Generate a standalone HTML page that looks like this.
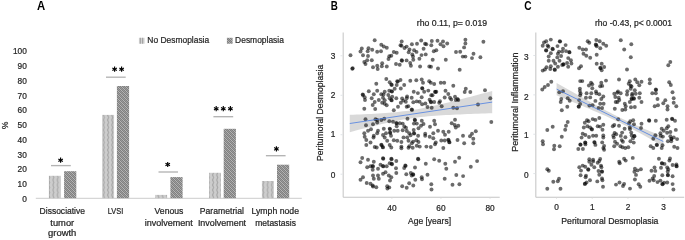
<!DOCTYPE html>
<html><head><meta charset="utf-8"><style>
html,body{margin:0;padding:0;background:#fff;width:685px;height:240px;overflow:hidden}
svg{display:block;font-family:"Liberation Sans", sans-serif;will-change:transform}
</style></head><body>
<svg width="685" height="240" viewBox="0 0 685 240">
<defs>
<pattern id="pl" width="4.2" height="5" patternUnits="userSpaceOnUse" x="0.4">
<rect width="4.2" height="5" fill="#cdcdcd"/><path d="M1.6,0 L2.5,2.5 L1.6,5 L2.8,5 L3.7,2.5 L2.8,0Z" fill="#a8a8a8"/>
</pattern>
<pattern id="pd" width="4" height="4" patternUnits="userSpaceOnUse">
<rect width="4" height="4" fill="#b6b6b6"/><path d="M0,0h1v1h-1zM2,0h1v1h-1zM1,1h1v1h-1zM3,1h1v1h-1zM0,2h1v1h-1zM2,2h1v1h-1zM1,3h1v1h-1zM3,3h1v1h-1z" fill="#808080"/><path d="M1,0h1v1h-1zM2,1h1v1h-1zM3,2h1v1h-1zM0,3h1v1h-1z" fill="#9c9c9c"/>
</pattern>
</defs>
<rect width="685" height="240" fill="#fff"/>
<text x="37" y="9.8" font-size="12.6" text-anchor="start" font-weight="bold" fill="#000" textLength="8.2" lengthAdjust="spacingAndGlyphs" >A</text><rect x="138.9" y="37.8" width="5.7" height="5.9" fill="#d2d2d2"/><rect x="139.8" y="37.8" width="1.1" height="5.9" fill="#a4a4a4"/><rect x="142.0" y="37.8" width="1.1" height="5.9" fill="#a4a4a4"/><rect x="226.9" y="37.8" width="5.7" height="5.9" fill="url(#pd)"/><text x="147.3" y="43.3" font-size="8.7" text-anchor="start" font-weight="normal" fill="#262626" stroke="#262626" stroke-width="0.22" textLength="61.9" lengthAdjust="spacingAndGlyphs" >No Desmoplasia</text><text x="235.1" y="43.3" font-size="8.7" text-anchor="start" font-weight="normal" fill="#262626" stroke="#262626" stroke-width="0.22" textLength="48.8" lengthAdjust="spacingAndGlyphs" >Desmoplasia</text><text x="26.8" y="201.79999999999998" font-size="8.3" text-anchor="end" font-weight="normal" fill="#262626" stroke="#262626" stroke-width="0.22" >0</text><text x="26.8" y="187.04999999999998" font-size="8.3" text-anchor="end" font-weight="normal" fill="#262626" stroke="#262626" stroke-width="0.22" >10</text><text x="26.8" y="172.29999999999998" font-size="8.3" text-anchor="end" font-weight="normal" fill="#262626" stroke="#262626" stroke-width="0.22" >20</text><text x="26.8" y="157.54999999999998" font-size="8.3" text-anchor="end" font-weight="normal" fill="#262626" stroke="#262626" stroke-width="0.22" >30</text><text x="26.8" y="142.79999999999998" font-size="8.3" text-anchor="end" font-weight="normal" fill="#262626" stroke="#262626" stroke-width="0.22" >40</text><text x="26.8" y="128.04999999999998" font-size="8.3" text-anchor="end" font-weight="normal" fill="#262626" stroke="#262626" stroke-width="0.22" >50</text><text x="26.8" y="113.29999999999998" font-size="8.3" text-anchor="end" font-weight="normal" fill="#262626" stroke="#262626" stroke-width="0.22" >60</text><text x="26.8" y="98.54999999999998" font-size="8.3" text-anchor="end" font-weight="normal" fill="#262626" stroke="#262626" stroke-width="0.22" >70</text><text x="26.8" y="83.79999999999998" font-size="8.3" text-anchor="end" font-weight="normal" fill="#262626" stroke="#262626" stroke-width="0.22" >80</text><text x="26.8" y="69.04999999999998" font-size="8.3" text-anchor="end" font-weight="normal" fill="#262626" stroke="#262626" stroke-width="0.22" >90</text><text x="26.8" y="54.29999999999999" font-size="8.3" text-anchor="end" font-weight="normal" fill="#262626" stroke="#262626" stroke-width="0.22" >100</text><text x="0" y="0" font-size="8.3" fill="#262626" stroke="#262626" stroke-width="0.22" text-anchor="middle" transform="translate(7.6,125.4) rotate(-90)">%</text><line x1="35.8" y1="198.35" x2="301.8" y2="198.35" stroke="#d6d6d6" stroke-width="1.1"/><rect x="48.9" y="175.8" width="12" height="22.40" fill="url(#pl)"/><rect x="64.1" y="171.2" width="12.2" height="27.00" fill="url(#pd)"/><rect x="102.1" y="114.9" width="12" height="83.30" fill="url(#pl)"/><rect x="116.9" y="86.0" width="12.2" height="112.20" fill="url(#pd)"/><rect x="155.1" y="194.9" width="12" height="3.30" fill="url(#pl)"/><rect x="170.4" y="177.1" width="12.2" height="21.10" fill="url(#pd)"/><rect x="209.0" y="172.8" width="12" height="25.40" fill="url(#pl)"/><rect x="223.7" y="128.8" width="12.2" height="69.40" fill="url(#pd)"/><rect x="261.9" y="181.0" width="12" height="17.20" fill="url(#pl)"/><rect x="277.0" y="164.7" width="12.2" height="33.50" fill="url(#pd)"/><line x1="51.0" y1="165.6" x2="70.8" y2="165.6" stroke="#b4b4b4" stroke-width="1.35"/><line x1="60.60" y1="157.60" x2="60.60" y2="162.80" stroke="#000" stroke-width="1.15"/><line x1="58.35" y1="158.90" x2="62.85" y2="161.50" stroke="#000" stroke-width="1.15"/><line x1="62.85" y1="158.90" x2="58.35" y2="161.50" stroke="#000" stroke-width="1.15"/><line x1="106" y1="77.2" x2="125.7" y2="77.2" stroke="#b4b4b4" stroke-width="1.35"/><line x1="114.60" y1="66.60" x2="114.60" y2="71.80" stroke="#000" stroke-width="1.15"/><line x1="112.35" y1="67.90" x2="116.85" y2="70.50" stroke="#000" stroke-width="1.15"/><line x1="116.85" y1="67.90" x2="112.35" y2="70.50" stroke="#000" stroke-width="1.15"/><line x1="121.60" y1="66.60" x2="121.60" y2="71.80" stroke="#000" stroke-width="1.15"/><line x1="119.35" y1="67.90" x2="123.85" y2="70.50" stroke="#000" stroke-width="1.15"/><line x1="123.85" y1="67.90" x2="119.35" y2="70.50" stroke="#000" stroke-width="1.15"/><line x1="158.5" y1="172" x2="178" y2="172" stroke="#b4b4b4" stroke-width="1.35"/><line x1="167.70" y1="161.90" x2="167.70" y2="167.10" stroke="#000" stroke-width="1.15"/><line x1="165.45" y1="163.20" x2="169.95" y2="165.80" stroke="#000" stroke-width="1.15"/><line x1="169.95" y1="163.20" x2="165.45" y2="165.80" stroke="#000" stroke-width="1.15"/><line x1="213.4" y1="116.7" x2="233.2" y2="116.7" stroke="#b4b4b4" stroke-width="1.35"/><line x1="216.20" y1="106.10" x2="216.20" y2="111.30" stroke="#000" stroke-width="1.15"/><line x1="213.95" y1="107.40" x2="218.45" y2="110.00" stroke="#000" stroke-width="1.15"/><line x1="218.45" y1="107.40" x2="213.95" y2="110.00" stroke="#000" stroke-width="1.15"/><line x1="223.30" y1="106.10" x2="223.30" y2="111.30" stroke="#000" stroke-width="1.15"/><line x1="221.05" y1="107.40" x2="225.55" y2="110.00" stroke="#000" stroke-width="1.15"/><line x1="225.55" y1="107.40" x2="221.05" y2="110.00" stroke="#000" stroke-width="1.15"/><line x1="230.40" y1="106.10" x2="230.40" y2="111.30" stroke="#000" stroke-width="1.15"/><line x1="228.15" y1="107.40" x2="232.65" y2="110.00" stroke="#000" stroke-width="1.15"/><line x1="232.65" y1="107.40" x2="228.15" y2="110.00" stroke="#000" stroke-width="1.15"/><line x1="265.9" y1="155.7" x2="285.6" y2="155.7" stroke="#b4b4b4" stroke-width="1.35"/><line x1="276.40" y1="146.30" x2="276.40" y2="151.50" stroke="#000" stroke-width="1.15"/><line x1="274.15" y1="147.60" x2="278.65" y2="150.20" stroke="#000" stroke-width="1.15"/><line x1="278.65" y1="147.60" x2="274.15" y2="150.20" stroke="#000" stroke-width="1.15"/><text x="39.6" y="214.0" font-size="8.3" text-anchor="start" font-weight="normal" fill="#262626" stroke="#262626" stroke-width="0.22" textLength="45.4" lengthAdjust="spacingAndGlyphs" >Dissociative</text><text x="50.3" y="225.5" font-size="8.3" text-anchor="start" font-weight="normal" fill="#262626" stroke="#262626" stroke-width="0.22" textLength="23.9" lengthAdjust="spacingAndGlyphs" >tumor</text><text x="48.0" y="236.3" font-size="8.3" text-anchor="start" font-weight="normal" fill="#262626" stroke="#262626" stroke-width="0.22" textLength="28.3" lengthAdjust="spacingAndGlyphs" >growth</text><text x="107.8" y="214.0" font-size="8.3" text-anchor="start" font-weight="normal" fill="#262626" stroke="#262626" stroke-width="0.22" textLength="15.5" lengthAdjust="spacingAndGlyphs" >LVSI</text><text x="154.6" y="214.0" font-size="8.3" text-anchor="start" font-weight="normal" fill="#262626" stroke="#262626" stroke-width="0.22" textLength="28.8" lengthAdjust="spacingAndGlyphs" >Venous</text><text x="144.8" y="225.5" font-size="8.3" text-anchor="start" font-weight="normal" fill="#262626" stroke="#262626" stroke-width="0.22" textLength="48.0" lengthAdjust="spacingAndGlyphs" >involvement</text><text x="199.8" y="214.0" font-size="8.3" text-anchor="start" font-weight="normal" fill="#262626" stroke="#262626" stroke-width="0.22" textLength="44.2" lengthAdjust="spacingAndGlyphs" >Parametrial</text><text x="197.9" y="225.5" font-size="8.3" text-anchor="start" font-weight="normal" fill="#262626" stroke="#262626" stroke-width="0.22" textLength="48.2" lengthAdjust="spacingAndGlyphs" >Involvement</text><text x="251.5" y="214.0" font-size="8.3" text-anchor="start" font-weight="normal" fill="#262626" stroke="#262626" stroke-width="0.22" textLength="47.5" lengthAdjust="spacingAndGlyphs" >Lymph node</text><text x="255.2" y="225.5" font-size="8.3" text-anchor="start" font-weight="normal" fill="#262626" stroke="#262626" stroke-width="0.22" textLength="40.7" lengthAdjust="spacingAndGlyphs" >metastasis</text><text x="330.8" y="9.8" font-size="12.6" text-anchor="start" font-weight="bold" fill="#000" textLength="7.1" lengthAdjust="spacingAndGlyphs" >B</text><text x="416.8" y="25.8" font-size="8.3" text-anchor="start" font-weight="normal" fill="#262626" stroke="#262626" stroke-width="0.22" textLength="70.3" lengthAdjust="spacingAndGlyphs" >rho 0.11, p= 0.019</text><line x1="343.2" y1="32.5" x2="343.2" y2="197.3" stroke="#cbcbcb" stroke-width="1.15"/><line x1="343.2" y1="197.25" x2="499.7" y2="197.25" stroke="#c4c4c4" stroke-width="1.15"/><line x1="340.5" y1="174.20" x2="342.6" y2="174.20" stroke="#e0e4e8" stroke-width="1"/><text x="335.3" y="178.2" font-size="8.3" text-anchor="end" font-weight="normal" fill="#262626" stroke="#262626" stroke-width="0.22" >0</text><line x1="340.5" y1="134.73" x2="342.6" y2="134.73" stroke="#e0e4e8" stroke-width="1"/><text x="335.3" y="136.9" font-size="8.3" text-anchor="end" font-weight="normal" fill="#262626" stroke="#262626" stroke-width="0.22" >1</text><line x1="340.5" y1="95.26" x2="342.6" y2="95.26" stroke="#e0e4e8" stroke-width="1"/><text x="335.3" y="98.3" font-size="8.3" text-anchor="end" font-weight="normal" fill="#262626" stroke="#262626" stroke-width="0.22" >2</text><line x1="340.5" y1="55.79" x2="342.6" y2="55.79" stroke="#e0e4e8" stroke-width="1"/><text x="335.3" y="58.8" font-size="8.3" text-anchor="end" font-weight="normal" fill="#262626" stroke="#262626" stroke-width="0.22" >3</text><line x1="391.90" y1="197.6" x2="391.90" y2="198.6" stroke="#d8d8d8" stroke-width="1"/><text x="391.9" y="211.0" font-size="8.3" text-anchor="middle" font-weight="normal" fill="#262626" stroke="#262626" stroke-width="0.22" >40</text><line x1="440.95" y1="197.6" x2="440.95" y2="198.6" stroke="#d8d8d8" stroke-width="1"/><text x="440.95" y="211.0" font-size="8.3" text-anchor="middle" font-weight="normal" fill="#262626" stroke="#262626" stroke-width="0.22" >60</text><line x1="490.00" y1="197.6" x2="490.00" y2="198.6" stroke="#d8d8d8" stroke-width="1"/><text x="490.0" y="211.0" font-size="8.3" text-anchor="middle" font-weight="normal" fill="#262626" stroke="#262626" stroke-width="0.22" >80</text><text x="408.0" y="224.3" font-size="8.3" text-anchor="start" font-weight="normal" fill="#262626" stroke="#262626" stroke-width="0.22" textLength="43" lengthAdjust="spacingAndGlyphs" >Age [years]</text><text x="0" y="0" font-size="8.3" fill="#262626" stroke="#262626" stroke-width="0.22" textLength="96.1" lengthAdjust="spacingAndGlyphs" transform="translate(323.0,160.9) rotate(-90)">Peritumoral Desmoplasia</text><path d="M349.75,114.86 L353.31,114.72 L356.87,114.58 L360.43,114.42 L364.00,114.26 L367.56,114.10 L371.12,113.92 L374.68,113.72 L378.24,113.52 L381.80,113.29 L385.36,113.05 L388.92,112.78 L392.49,112.48 L396.05,112.15 L399.61,111.78 L403.17,111.36 L406.73,110.90 L410.29,110.39 L413.85,109.83 L417.41,109.22 L420.98,108.57 L424.54,107.87 L428.10,107.13 L431.66,106.36 L435.22,105.56 L438.78,104.73 L442.34,103.89 L445.90,103.03 L449.46,102.15 L453.03,101.26 L456.59,100.36 L460.15,99.45 L463.71,98.53 L467.27,97.60 L470.83,96.67 L474.39,95.74 L477.95,94.80 L481.52,93.85 L485.08,92.90 L488.64,91.95 L492.20,91.00 L492.20,113.20 L488.64,113.32 L485.08,113.44 L481.52,113.56 L477.95,113.68 L474.39,113.81 L470.83,113.95 L467.27,114.09 L463.71,114.23 L460.15,114.38 L456.59,114.54 L453.03,114.71 L449.46,114.89 L445.90,115.08 L442.34,115.29 L438.78,115.52 L435.22,115.76 L431.66,116.03 L428.10,116.33 L424.54,116.66 L420.98,117.03 L417.41,117.45 L413.85,117.91 L410.29,118.42 L406.73,118.98 L403.17,119.59 L399.61,120.24 L396.05,120.94 L392.49,121.68 L388.92,122.45 L385.36,123.25 L381.80,124.08 L378.24,124.92 L374.68,125.79 L371.12,126.66 L367.56,127.55 L364.00,128.46 L360.43,129.37 L356.87,130.28 L353.31,131.21 L349.75,132.14Z" fill="#d0d0d0" fill-opacity="0.8"/><circle fill="#000" fill-opacity="0.58" cx="350.5" cy="55.2" r="1.95"/><circle fill="#000" fill-opacity="0.58" cx="352.7" cy="68.2" r="1.95"/><circle fill="#000" fill-opacity="0.58" cx="352.3" cy="68.8" r="1.95"/><circle fill="#000" fill-opacity="0.58" cx="374.7" cy="40.2" r="1.95"/><circle fill="#000" fill-opacity="0.58" cx="361.8" cy="48.5" r="1.95"/><circle fill="#000" fill-opacity="0.58" cx="360.5" cy="51.5" r="1.95"/><circle fill="#000" fill-opacity="0.58" cx="368.5" cy="48.2" r="1.95"/><circle fill="#000" fill-opacity="0.58" cx="367.7" cy="51.2" r="1.95"/><circle fill="#000" fill-opacity="0.58" cx="372.2" cy="49.8" r="1.95"/><circle fill="#000" fill-opacity="0.58" cx="363.0" cy="55.3" r="1.95"/><circle fill="#000" fill-opacity="0.58" cx="368.0" cy="56.0" r="1.95"/><circle fill="#000" fill-opacity="0.58" cx="377.2" cy="51.8" r="1.95"/><circle fill="#000" fill-opacity="0.58" cx="381.0" cy="51.2" r="1.95"/><circle fill="#000" fill-opacity="0.58" cx="381.3" cy="44.8" r="1.95"/><circle fill="#000" fill-opacity="0.58" cx="383.8" cy="46.5" r="1.95"/><circle fill="#000" fill-opacity="0.58" cx="386.8" cy="47.7" r="1.95"/><circle fill="#000" fill-opacity="0.58" cx="367.2" cy="60.3" r="1.95"/><circle fill="#000" fill-opacity="0.58" cx="364.3" cy="62.0" r="1.95"/><circle fill="#000" fill-opacity="0.58" cx="365.5" cy="64.0" r="1.95"/><circle fill="#000" fill-opacity="0.58" cx="371.8" cy="60.3" r="1.95"/><circle fill="#000" fill-opacity="0.58" cx="373.0" cy="67.3" r="1.95"/><circle fill="#000" fill-opacity="0.58" cx="377.2" cy="65.7" r="1.95"/><circle fill="#000" fill-opacity="0.58" cx="377.7" cy="69.0" r="1.95"/><circle fill="#000" fill-opacity="0.58" cx="382.2" cy="63.2" r="1.95"/><circle fill="#000" fill-opacity="0.58" cx="381.8" cy="66.2" r="1.95"/><circle fill="#000" fill-opacity="0.58" cx="386.8" cy="66.5" r="1.95"/><circle fill="#000" fill-opacity="0.58" cx="389.3" cy="56.2" r="1.95"/><circle fill="#000" fill-opacity="0.58" cx="391.3" cy="55.7" r="1.95"/><circle fill="#000" fill-opacity="0.58" cx="388.5" cy="59.0" r="1.95"/><circle fill="#000" fill-opacity="0.58" cx="393.8" cy="52.0" r="1.95"/><circle fill="#000" fill-opacity="0.58" cx="396.7" cy="52.8" r="1.95"/><circle fill="#000" fill-opacity="0.58" cx="396.0" cy="64.0" r="1.95"/><circle fill="#000" fill-opacity="0.58" cx="399.7" cy="64.8" r="1.95"/><circle fill="#000" fill-opacity="0.58" cx="400.5" cy="45.3" r="1.95"/><circle fill="#000" fill-opacity="0.58" cx="401.5" cy="45.8" r="1.95"/><circle fill="#000" fill-opacity="0.58" cx="401.7" cy="41.5" r="1.95"/><circle fill="#000" fill-opacity="0.58" cx="401.7" cy="60.3" r="1.95"/><circle fill="#000" fill-opacity="0.58" cx="402.0" cy="60.8" r="1.95"/><circle fill="#000" fill-opacity="0.58" cx="404.5" cy="48.0" r="1.95"/><circle fill="#000" fill-opacity="0.58" cx="406.6" cy="46.6" r="1.95"/><circle fill="#000" fill-opacity="0.58" cx="409.5" cy="49.5" r="1.95"/><circle fill="#000" fill-opacity="0.58" cx="408.7" cy="52.3" r="1.95"/><circle fill="#000" fill-opacity="0.58" cx="411.9" cy="44.2" r="1.95"/><circle fill="#000" fill-opacity="0.58" cx="417.0" cy="43.8" r="1.95"/><circle fill="#000" fill-opacity="0.58" cx="414.1" cy="50.2" r="1.95"/><circle fill="#000" fill-opacity="0.58" cx="416.5" cy="51.9" r="1.95"/><circle fill="#000" fill-opacity="0.58" cx="412.3" cy="54.4" r="1.95"/><circle fill="#000" fill-opacity="0.58" cx="413.0" cy="56.5" r="1.95"/><circle fill="#000" fill-opacity="0.58" cx="421.2" cy="40.5" r="1.95"/><circle fill="#000" fill-opacity="0.58" cx="425.0" cy="43.8" r="1.95"/><circle fill="#000" fill-opacity="0.58" cx="423.6" cy="48.7" r="1.95"/><circle fill="#000" fill-opacity="0.58" cx="421.5" cy="55.1" r="1.95"/><circle fill="#000" fill-opacity="0.58" cx="425.7" cy="54.4" r="1.95"/><circle fill="#000" fill-opacity="0.58" cx="419.4" cy="58.7" r="1.95"/><circle fill="#000" fill-opacity="0.58" cx="406.6" cy="60.4" r="1.95"/><circle fill="#000" fill-opacity="0.58" cx="410.2" cy="62.9" r="1.95"/><circle fill="#000" fill-opacity="0.58" cx="413.3" cy="59.8" r="1.95"/><circle fill="#000" fill-opacity="0.58" cx="410.9" cy="65.7" r="1.95"/><circle fill="#000" fill-opacity="0.58" cx="420.1" cy="66.5" r="1.95"/><circle fill="#000" fill-opacity="0.58" cx="429.3" cy="66.5" r="1.95"/><circle fill="#000" fill-opacity="0.58" cx="431.0" cy="66.8" r="1.95"/><circle fill="#000" fill-opacity="0.58" cx="426.3" cy="44.3" r="1.95"/><circle fill="#000" fill-opacity="0.58" cx="431.8" cy="41.0" r="1.95"/><circle fill="#000" fill-opacity="0.58" cx="431.3" cy="45.3" r="1.95"/><circle fill="#000" fill-opacity="0.58" cx="437.5" cy="40.7" r="1.95"/><circle fill="#000" fill-opacity="0.58" cx="443.0" cy="41.5" r="1.95"/><circle fill="#000" fill-opacity="0.58" cx="440.5" cy="44.3" r="1.95"/><circle fill="#000" fill-opacity="0.58" cx="443.5" cy="46.2" r="1.95"/><circle fill="#000" fill-opacity="0.58" cx="447.2" cy="43.5" r="1.95"/><circle fill="#000" fill-opacity="0.58" cx="433.8" cy="51.2" r="1.95"/><circle fill="#000" fill-opacity="0.58" cx="436.3" cy="50.2" r="1.95"/><circle fill="#000" fill-opacity="0.58" cx="432.7" cy="59.8" r="1.95"/><circle fill="#000" fill-opacity="0.58" cx="445.8" cy="59.8" r="1.95"/><circle fill="#000" fill-opacity="0.58" cx="438.0" cy="68.5" r="1.95"/><circle fill="#000" fill-opacity="0.58" cx="456.0" cy="52.0" r="1.95"/><circle fill="#000" fill-opacity="0.58" cx="460.2" cy="51.8" r="1.95"/><circle fill="#000" fill-opacity="0.58" cx="459.7" cy="69.8" r="1.95"/><circle fill="#000" fill-opacity="0.58" cx="465.4" cy="39.8" r="1.95"/><circle fill="#000" fill-opacity="0.58" cx="465.4" cy="43.5" r="1.95"/><circle fill="#000" fill-opacity="0.58" cx="464.1" cy="47.4" r="1.95"/><circle fill="#000" fill-opacity="0.58" cx="462.8" cy="56.6" r="1.95"/><circle fill="#000" fill-opacity="0.58" cx="465.4" cy="56.6" r="1.95"/><circle fill="#000" fill-opacity="0.58" cx="473.5" cy="53.8" r="1.95"/><circle fill="#000" fill-opacity="0.58" cx="472.0" cy="58.1" r="1.95"/><circle fill="#000" fill-opacity="0.58" cx="480.4" cy="57.2" r="1.95"/><circle fill="#000" fill-opacity="0.58" cx="483.4" cy="41.8" r="1.95"/><circle fill="#000" fill-opacity="0.58" cx="386.3" cy="79.0" r="1.95"/><circle fill="#000" fill-opacity="0.58" cx="376.3" cy="83.7" r="1.95"/><circle fill="#000" fill-opacity="0.58" cx="389.7" cy="82.3" r="1.95"/><circle fill="#000" fill-opacity="0.58" cx="391.3" cy="84.5" r="1.95"/><circle fill="#000" fill-opacity="0.58" cx="391.8" cy="85.0" r="1.95"/><circle fill="#000" fill-opacity="0.58" cx="397.2" cy="81.2" r="1.95"/><circle fill="#000" fill-opacity="0.58" cx="397.8" cy="81.6" r="1.95"/><circle fill="#000" fill-opacity="0.58" cx="400.5" cy="80.0" r="1.95"/><circle fill="#000" fill-opacity="0.58" cx="396.7" cy="85.0" r="1.95"/><circle fill="#000" fill-opacity="0.58" cx="394.7" cy="88.7" r="1.95"/><circle fill="#000" fill-opacity="0.58" cx="368.8" cy="91.2" r="1.95"/><circle fill="#000" fill-opacity="0.58" cx="377.2" cy="90.7" r="1.95"/><circle fill="#000" fill-opacity="0.58" cx="384.7" cy="91.7" r="1.95"/><circle fill="#000" fill-opacity="0.58" cx="389.3" cy="90.7" r="1.95"/><circle fill="#000" fill-opacity="0.58" cx="391.7" cy="91.2" r="1.95"/><circle fill="#000" fill-opacity="0.58" cx="392.0" cy="91.6" r="1.95"/><circle fill="#000" fill-opacity="0.58" cx="362.7" cy="94.5" r="1.95"/><circle fill="#000" fill-opacity="0.58" cx="363.0" cy="95.0" r="1.95"/><circle fill="#000" fill-opacity="0.58" cx="364.7" cy="97.3" r="1.95"/><circle fill="#000" fill-opacity="0.58" cx="365.0" cy="100.0" r="1.95"/><circle fill="#000" fill-opacity="0.58" cx="373.8" cy="94.2" r="1.95"/><circle fill="#000" fill-opacity="0.58" cx="381.3" cy="94.2" r="1.95"/><circle fill="#000" fill-opacity="0.58" cx="383.5" cy="94.5" r="1.95"/><circle fill="#000" fill-opacity="0.58" cx="383.0" cy="97.8" r="1.95"/><circle fill="#000" fill-opacity="0.58" cx="388.3" cy="95.0" r="1.95"/><circle fill="#000" fill-opacity="0.58" cx="389.7" cy="98.3" r="1.95"/><circle fill="#000" fill-opacity="0.58" cx="392.2" cy="96.7" r="1.95"/><circle fill="#000" fill-opacity="0.58" cx="371.7" cy="98.3" r="1.95"/><circle fill="#000" fill-opacity="0.58" cx="378.8" cy="100.0" r="1.95"/><circle fill="#000" fill-opacity="0.58" cx="384.7" cy="100.3" r="1.95"/><circle fill="#000" fill-opacity="0.58" cx="391.3" cy="100.0" r="1.95"/><circle fill="#000" fill-opacity="0.58" cx="391.7" cy="100.4" r="1.95"/><circle fill="#000" fill-opacity="0.58" cx="396.3" cy="98.3" r="1.95"/><circle fill="#000" fill-opacity="0.58" cx="374.7" cy="102.0" r="1.95"/><circle fill="#000" fill-opacity="0.58" cx="372.7" cy="105.0" r="1.95"/><circle fill="#000" fill-opacity="0.58" cx="382.2" cy="102.8" r="1.95"/><circle fill="#000" fill-opacity="0.58" cx="384.7" cy="103.7" r="1.95"/><circle fill="#000" fill-opacity="0.58" cx="386.7" cy="105.3" r="1.95"/><circle fill="#000" fill-opacity="0.58" cx="364.3" cy="108.7" r="1.95"/><circle fill="#000" fill-opacity="0.58" cx="375.2" cy="109.0" r="1.95"/><circle fill="#000" fill-opacity="0.58" cx="393.8" cy="110.3" r="1.95"/><circle fill="#000" fill-opacity="0.58" cx="398.0" cy="106.7" r="1.95"/><circle fill="#000" fill-opacity="0.58" cx="404.2" cy="85.0" r="1.95"/><circle fill="#000" fill-opacity="0.58" cx="410.3" cy="80.7" r="1.95"/><circle fill="#000" fill-opacity="0.58" cx="416.3" cy="80.3" r="1.95"/><circle fill="#000" fill-opacity="0.58" cx="421.7" cy="79.5" r="1.95"/><circle fill="#000" fill-opacity="0.58" cx="423.0" cy="82.8" r="1.95"/><circle fill="#000" fill-opacity="0.58" cx="429.2" cy="81.2" r="1.95"/><circle fill="#000" fill-opacity="0.58" cx="430.8" cy="82.8" r="1.95"/><circle fill="#000" fill-opacity="0.58" cx="434.2" cy="84.0" r="1.95"/><circle fill="#000" fill-opacity="0.58" cx="440.8" cy="82.8" r="1.95"/><circle fill="#000" fill-opacity="0.58" cx="444.2" cy="82.8" r="1.95"/><circle fill="#000" fill-opacity="0.58" cx="453.3" cy="85.8" r="1.95"/><circle fill="#000" fill-opacity="0.58" cx="435.0" cy="91.7" r="1.95"/><circle fill="#000" fill-opacity="0.58" cx="435.5" cy="92.0" r="1.95"/><circle fill="#000" fill-opacity="0.58" cx="436.3" cy="91.7" r="1.95"/><circle fill="#000" fill-opacity="0.58" cx="445.5" cy="90.8" r="1.95"/><circle fill="#000" fill-opacity="0.58" cx="448.3" cy="94.0" r="1.95"/><circle fill="#000" fill-opacity="0.58" cx="432.5" cy="95.3" r="1.95"/><circle fill="#000" fill-opacity="0.58" cx="434.2" cy="102.0" r="1.95"/><circle fill="#000" fill-opacity="0.58" cx="440.0" cy="101.2" r="1.95"/><circle fill="#000" fill-opacity="0.58" cx="444.7" cy="97.5" r="1.95"/><circle fill="#000" fill-opacity="0.58" cx="450.0" cy="97.8" r="1.95"/><circle fill="#000" fill-opacity="0.58" cx="451.3" cy="99.5" r="1.95"/><circle fill="#000" fill-opacity="0.58" cx="455.0" cy="96.7" r="1.95"/><circle fill="#000" fill-opacity="0.58" cx="457.5" cy="99.0" r="1.95"/><circle fill="#000" fill-opacity="0.58" cx="427.5" cy="107.0" r="1.95"/><circle fill="#000" fill-opacity="0.58" cx="431.7" cy="107.8" r="1.95"/><circle fill="#000" fill-opacity="0.58" cx="439.2" cy="102.8" r="1.95"/><circle fill="#000" fill-opacity="0.58" cx="441.7" cy="106.2" r="1.95"/><circle fill="#000" fill-opacity="0.58" cx="406.7" cy="106.7" r="1.95"/><circle fill="#000" fill-opacity="0.58" cx="408.3" cy="106.2" r="1.95"/><circle fill="#000" fill-opacity="0.58" cx="411.7" cy="109.5" r="1.95"/><circle fill="#000" fill-opacity="0.58" cx="412.0" cy="109.9" r="1.95"/><circle fill="#000" fill-opacity="0.58" cx="453.3" cy="107.8" r="1.95"/><circle fill="#000" fill-opacity="0.58" cx="457.0" cy="108.3" r="1.95"/><circle fill="#000" fill-opacity="0.58" cx="465.8" cy="88.7" r="1.95"/><circle fill="#000" fill-opacity="0.58" cx="464.7" cy="92.0" r="1.95"/><circle fill="#000" fill-opacity="0.58" cx="470.3" cy="92.0" r="1.95"/><circle fill="#000" fill-opacity="0.58" cx="485.0" cy="90.3" r="1.95"/><circle fill="#000" fill-opacity="0.58" cx="490.3" cy="98.3" r="1.95"/><circle fill="#000" fill-opacity="0.58" cx="455.8" cy="100.0" r="1.95"/><circle fill="#000" fill-opacity="0.58" cx="458.3" cy="100.0" r="1.95"/><circle fill="#000" fill-opacity="0.58" cx="478.0" cy="104.5" r="1.95"/><circle fill="#000" fill-opacity="0.58" cx="365.5" cy="119.2" r="1.95"/><circle fill="#000" fill-opacity="0.58" cx="366.0" cy="125.3" r="1.95"/><circle fill="#000" fill-opacity="0.58" cx="373.0" cy="124.2" r="1.95"/><circle fill="#000" fill-opacity="0.58" cx="375.5" cy="119.2" r="1.95"/><circle fill="#000" fill-opacity="0.58" cx="377.2" cy="120.0" r="1.95"/><circle fill="#000" fill-opacity="0.58" cx="377.2" cy="122.5" r="1.95"/><circle fill="#000" fill-opacity="0.58" cx="381.3" cy="120.0" r="1.95"/><circle fill="#000" fill-opacity="0.58" cx="384.3" cy="118.7" r="1.95"/><circle fill="#000" fill-opacity="0.58" cx="389.3" cy="121.3" r="1.95"/><circle fill="#000" fill-opacity="0.58" cx="393.0" cy="121.7" r="1.95"/><circle fill="#000" fill-opacity="0.58" cx="396.3" cy="123.0" r="1.95"/><circle fill="#000" fill-opacity="0.58" cx="396.7" cy="123.4" r="1.95"/><circle fill="#000" fill-opacity="0.58" cx="399.75" cy="123.2" r="1.95"/><circle fill="#000" fill-opacity="0.58" cx="396.7" cy="126.3" r="1.95"/><circle fill="#000" fill-opacity="0.58" cx="364.3" cy="133.3" r="1.95"/><circle fill="#000" fill-opacity="0.58" cx="368.0" cy="130.8" r="1.95"/><circle fill="#000" fill-opacity="0.58" cx="371.0" cy="129.2" r="1.95"/><circle fill="#000" fill-opacity="0.58" cx="378.0" cy="130.8" r="1.95"/><circle fill="#000" fill-opacity="0.58" cx="377.2" cy="133.3" r="1.95"/><circle fill="#000" fill-opacity="0.58" cx="383.8" cy="128.8" r="1.95"/><circle fill="#000" fill-opacity="0.58" cx="389.7" cy="128.7" r="1.95"/><circle fill="#000" fill-opacity="0.58" cx="390.0" cy="129.1" r="1.95"/><circle fill="#000" fill-opacity="0.58" cx="390.0" cy="132.5" r="1.95"/><circle fill="#000" fill-opacity="0.58" cx="390.3" cy="132.9" r="1.95"/><circle fill="#000" fill-opacity="0.58" cx="394.3" cy="130.8" r="1.95"/><circle fill="#000" fill-opacity="0.58" cx="397.7" cy="130.8" r="1.95"/><circle fill="#000" fill-opacity="0.58" cx="402.7" cy="130.25" r="1.95"/><circle fill="#000" fill-opacity="0.58" cx="383.0" cy="135.0" r="1.95"/><circle fill="#000" fill-opacity="0.58" cx="386.0" cy="133.3" r="1.95"/><circle fill="#000" fill-opacity="0.58" cx="391.0" cy="135.8" r="1.95"/><circle fill="#000" fill-opacity="0.58" cx="364.7" cy="136.7" r="1.95"/><circle fill="#000" fill-opacity="0.58" cx="373.8" cy="135.8" r="1.95"/><circle fill="#000" fill-opacity="0.58" cx="373.5" cy="137.5" r="1.95"/><circle fill="#000" fill-opacity="0.58" cx="384.7" cy="137.5" r="1.95"/><circle fill="#000" fill-opacity="0.58" cx="366.3" cy="140.0" r="1.95"/><circle fill="#000" fill-opacity="0.58" cx="370.5" cy="142.5" r="1.95"/><circle fill="#000" fill-opacity="0.58" cx="387.2" cy="140.8" r="1.95"/><circle fill="#000" fill-opacity="0.58" cx="393.8" cy="140.3" r="1.95"/><circle fill="#000" fill-opacity="0.58" cx="366.3" cy="145.0" r="1.95"/><circle fill="#000" fill-opacity="0.58" cx="374.7" cy="147.0" r="1.95"/><circle fill="#000" fill-opacity="0.58" cx="376.7" cy="147.5" r="1.95"/><circle fill="#000" fill-opacity="0.58" cx="381.3" cy="144.7" r="1.95"/><circle fill="#000" fill-opacity="0.58" cx="381.6" cy="145.1" r="1.95"/><circle fill="#000" fill-opacity="0.58" cx="382.7" cy="147.0" r="1.95"/><circle fill="#000" fill-opacity="0.58" cx="383.0" cy="147.4" r="1.95"/><circle fill="#000" fill-opacity="0.58" cx="389.7" cy="145.0" r="1.95"/><circle fill="#000" fill-opacity="0.58" cx="391.3" cy="147.5" r="1.95"/><circle fill="#000" fill-opacity="0.58" cx="407.5" cy="118.7" r="1.95"/><circle fill="#000" fill-opacity="0.58" cx="414.75" cy="119.8" r="1.95"/><circle fill="#000" fill-opacity="0.58" cx="415.0" cy="120.2" r="1.95"/><circle fill="#000" fill-opacity="0.58" cx="413.9" cy="123.6" r="1.95"/><circle fill="#000" fill-opacity="0.58" cx="416.8" cy="123.6" r="1.95"/><circle fill="#000" fill-opacity="0.58" cx="421.8" cy="120.7" r="1.95"/><circle fill="#000" fill-opacity="0.58" cx="421.0" cy="125.7" r="1.95"/><circle fill="#000" fill-opacity="0.58" cx="423.5" cy="124.0" r="1.95"/><circle fill="#000" fill-opacity="0.58" cx="418.5" cy="128.2" r="1.95"/><circle fill="#000" fill-opacity="0.58" cx="434.2" cy="120.8" r="1.95"/><circle fill="#000" fill-opacity="0.58" cx="435.0" cy="124.2" r="1.95"/><circle fill="#000" fill-opacity="0.58" cx="430.0" cy="126.7" r="1.95"/><circle fill="#000" fill-opacity="0.58" cx="402.7" cy="123.6" r="1.95"/><circle fill="#000" fill-opacity="0.58" cx="404.3" cy="126.5" r="1.95"/><circle fill="#000" fill-opacity="0.58" cx="406.0" cy="127.75" r="1.95"/><circle fill="#000" fill-opacity="0.58" cx="406.8" cy="131.0" r="1.95"/><circle fill="#000" fill-opacity="0.58" cx="413.7" cy="130.0" r="1.95"/><circle fill="#000" fill-opacity="0.58" cx="429.7" cy="136.7" r="1.95"/><circle fill="#000" fill-opacity="0.58" cx="433.3" cy="133.3" r="1.95"/><circle fill="#000" fill-opacity="0.58" cx="438.0" cy="130.8" r="1.95"/><circle fill="#000" fill-opacity="0.58" cx="443.3" cy="131.7" r="1.95"/><circle fill="#000" fill-opacity="0.58" cx="445.0" cy="134.7" r="1.95"/><circle fill="#000" fill-opacity="0.58" cx="448.7" cy="131.7" r="1.95"/><circle fill="#000" fill-opacity="0.58" cx="433.3" cy="138.3" r="1.95"/><circle fill="#000" fill-opacity="0.58" cx="435.8" cy="142.5" r="1.95"/><circle fill="#000" fill-opacity="0.58" cx="435.0" cy="144.2" r="1.95"/><circle fill="#000" fill-opacity="0.58" cx="441.3" cy="140.5" r="1.95"/><circle fill="#000" fill-opacity="0.58" cx="444.7" cy="140.5" r="1.95"/><circle fill="#000" fill-opacity="0.58" cx="448.3" cy="139.7" r="1.95"/><circle fill="#000" fill-opacity="0.58" cx="448.6" cy="140.1" r="1.95"/><circle fill="#000" fill-opacity="0.58" cx="449.2" cy="142.0" r="1.95"/><circle fill="#000" fill-opacity="0.58" cx="449.5" cy="142.4" r="1.95"/><circle fill="#000" fill-opacity="0.58" cx="457.5" cy="140.0" r="1.95"/><circle fill="#000" fill-opacity="0.58" cx="455.0" cy="119.7" r="1.95"/><circle fill="#000" fill-opacity="0.58" cx="451.7" cy="123.3" r="1.95"/><circle fill="#000" fill-opacity="0.58" cx="454.7" cy="125.0" r="1.95"/><circle fill="#000" fill-opacity="0.58" cx="455.8" cy="127.5" r="1.95"/><circle fill="#000" fill-opacity="0.58" cx="458.3" cy="125.8" r="1.95"/><circle fill="#000" fill-opacity="0.58" cx="430.8" cy="147.0" r="1.95"/><circle fill="#000" fill-opacity="0.58" cx="443.3" cy="148.0" r="1.95"/><circle fill="#000" fill-opacity="0.58" cx="491.3" cy="122.0" r="1.95"/><circle fill="#000" fill-opacity="0.58" cx="475.8" cy="131.3" r="1.95"/><circle fill="#000" fill-opacity="0.58" cx="472.0" cy="133.7" r="1.95"/><circle fill="#000" fill-opacity="0.58" cx="470.0" cy="136.3" r="1.95"/><circle fill="#000" fill-opacity="0.58" cx="473.3" cy="138.7" r="1.95"/><circle fill="#000" fill-opacity="0.58" cx="463.0" cy="135.8" r="1.95"/><circle fill="#000" fill-opacity="0.58" cx="464.2" cy="143.3" r="1.95"/><circle fill="#000" fill-opacity="0.58" cx="473.3" cy="143.3" r="1.95"/><circle fill="#000" fill-opacity="0.58" cx="362.2" cy="158.0" r="1.95"/><circle fill="#000" fill-opacity="0.58" cx="360.5" cy="162.2" r="1.95"/><circle fill="#000" fill-opacity="0.58" cx="368.0" cy="159.7" r="1.95"/><circle fill="#000" fill-opacity="0.58" cx="373.8" cy="161.7" r="1.95"/><circle fill="#000" fill-opacity="0.58" cx="383.0" cy="158.3" r="1.95"/><circle fill="#000" fill-opacity="0.58" cx="383.3" cy="158.7" r="1.95"/><circle fill="#000" fill-opacity="0.58" cx="391.3" cy="158.8" r="1.95"/><circle fill="#000" fill-opacity="0.58" cx="391.6" cy="159.2" r="1.95"/><circle fill="#000" fill-opacity="0.58" cx="396.3" cy="161.0" r="1.95"/><circle fill="#000" fill-opacity="0.58" cx="367.2" cy="167.2" r="1.95"/><circle fill="#000" fill-opacity="0.58" cx="370.5" cy="166.3" r="1.95"/><circle fill="#000" fill-opacity="0.58" cx="372.7" cy="166.0" r="1.95"/><circle fill="#000" fill-opacity="0.58" cx="373.0" cy="166.4" r="1.95"/><circle fill="#000" fill-opacity="0.58" cx="372.7" cy="169.7" r="1.95"/><circle fill="#000" fill-opacity="0.58" cx="378.0" cy="168.8" r="1.95"/><circle fill="#000" fill-opacity="0.58" cx="380.5" cy="164.7" r="1.95"/><circle fill="#000" fill-opacity="0.58" cx="383.0" cy="166.0" r="1.95"/><circle fill="#000" fill-opacity="0.58" cx="383.3" cy="166.4" r="1.95"/><circle fill="#000" fill-opacity="0.58" cx="386.7" cy="166.3" r="1.95"/><circle fill="#000" fill-opacity="0.58" cx="389.7" cy="163.3" r="1.95"/><circle fill="#000" fill-opacity="0.58" cx="391.7" cy="163.8" r="1.95"/><circle fill="#000" fill-opacity="0.58" cx="392.0" cy="164.2" r="1.95"/><circle fill="#000" fill-opacity="0.58" cx="396.0" cy="168.3" r="1.95"/><circle fill="#000" fill-opacity="0.58" cx="396.3" cy="173.0" r="1.95"/><circle fill="#000" fill-opacity="0.58" cx="383.0" cy="173.8" r="1.95"/><circle fill="#000" fill-opacity="0.58" cx="385.5" cy="172.2" r="1.95"/><circle fill="#000" fill-opacity="0.58" cx="373.0" cy="175.5" r="1.95"/><circle fill="#000" fill-opacity="0.58" cx="378.0" cy="175.5" r="1.95"/><circle fill="#000" fill-opacity="0.58" cx="373.8" cy="178.8" r="1.95"/><circle fill="#000" fill-opacity="0.58" cx="378.8" cy="178.8" r="1.95"/><circle fill="#000" fill-opacity="0.58" cx="388.8" cy="175.5" r="1.95"/><circle fill="#000" fill-opacity="0.58" cx="391.3" cy="177.2" r="1.95"/><circle fill="#000" fill-opacity="0.58" cx="390.0" cy="180.5" r="1.95"/><circle fill="#000" fill-opacity="0.58" cx="363.0" cy="177.2" r="1.95"/><circle fill="#000" fill-opacity="0.58" cx="360.5" cy="179.7" r="1.95"/><circle fill="#000" fill-opacity="0.58" cx="366.7" cy="183.0" r="1.95"/><circle fill="#000" fill-opacity="0.58" cx="370.5" cy="183.8" r="1.95"/><circle fill="#000" fill-opacity="0.58" cx="372.7" cy="185.5" r="1.95"/><circle fill="#000" fill-opacity="0.58" cx="373.0" cy="186.5" r="1.95"/><circle fill="#000" fill-opacity="0.58" cx="376.3" cy="187.2" r="1.95"/><circle fill="#000" fill-opacity="0.58" cx="387.2" cy="186.3" r="1.95"/><circle fill="#000" fill-opacity="0.58" cx="389.25" cy="187.4" r="1.95"/><circle fill="#000" fill-opacity="0.58" cx="387.4" cy="188.6" r="1.95"/><circle fill="#000" fill-opacity="0.58" cx="402.2" cy="186.3" r="1.95"/><circle fill="#000" fill-opacity="0.58" cx="418.0" cy="158.8" r="1.95"/><circle fill="#000" fill-opacity="0.58" cx="418.3" cy="159.2" r="1.95"/><circle fill="#000" fill-opacity="0.58" cx="425.8" cy="163.8" r="1.95"/><circle fill="#000" fill-opacity="0.58" cx="434.2" cy="159.3" r="1.95"/><circle fill="#000" fill-opacity="0.58" cx="439.2" cy="160.8" r="1.95"/><circle fill="#000" fill-opacity="0.58" cx="445.3" cy="163.8" r="1.95"/><circle fill="#000" fill-opacity="0.58" cx="446.3" cy="168.8" r="1.95"/><circle fill="#000" fill-opacity="0.58" cx="455.0" cy="161.8" r="1.95"/><circle fill="#000" fill-opacity="0.58" cx="459.2" cy="157.7" r="1.95"/><circle fill="#000" fill-opacity="0.58" cx="405.3" cy="165.5" r="1.95"/><circle fill="#000" fill-opacity="0.58" cx="405.6" cy="165.9" r="1.95"/><circle fill="#000" fill-opacity="0.58" cx="404.2" cy="168.0" r="1.95"/><circle fill="#000" fill-opacity="0.58" cx="415.0" cy="167.5" r="1.95"/><circle fill="#000" fill-opacity="0.58" cx="406.3" cy="174.3" r="1.95"/><circle fill="#000" fill-opacity="0.58" cx="410.8" cy="173.0" r="1.95"/><circle fill="#000" fill-opacity="0.58" cx="413.0" cy="174.3" r="1.95"/><circle fill="#000" fill-opacity="0.58" cx="413.3" cy="174.7" r="1.95"/><circle fill="#000" fill-opacity="0.58" cx="411.7" cy="175.5" r="1.95"/><circle fill="#000" fill-opacity="0.58" cx="415.3" cy="179.7" r="1.95"/><circle fill="#000" fill-opacity="0.58" cx="421.7" cy="177.2" r="1.95"/><circle fill="#000" fill-opacity="0.58" cx="422.0" cy="179.3" r="1.95"/><circle fill="#000" fill-opacity="0.58" cx="427.5" cy="174.7" r="1.95"/><circle fill="#000" fill-opacity="0.58" cx="444.7" cy="178.8" r="1.95"/><circle fill="#000" fill-opacity="0.58" cx="456.3" cy="175.0" r="1.95"/><circle fill="#000" fill-opacity="0.58" cx="409.2" cy="183.3" r="1.95"/><circle fill="#000" fill-opacity="0.58" cx="413.3" cy="185.5" r="1.95"/><circle fill="#000" fill-opacity="0.58" cx="431.3" cy="184.3" r="1.95"/><circle fill="#000" fill-opacity="0.58" cx="431.5" cy="189.5" r="1.95"/><circle fill="#000" fill-opacity="0.58" cx="452.5" cy="184.7" r="1.95"/><circle fill="#000" fill-opacity="0.58" cx="406.7" cy="187.7" r="1.95"/><circle fill="#000" fill-opacity="0.58" cx="459.4" cy="184.25" r="1.95"/><circle fill="#000" fill-opacity="0.58" cx="470.8" cy="166.75" r="1.95"/><circle fill="#000" fill-opacity="0.58" cx="477.1" cy="161.1" r="1.95"/><circle fill="#000" fill-opacity="0.58" cx="463.1" cy="176.1" r="1.95"/><circle fill="#000" fill-opacity="0.58" cx="409.3" cy="133.25" r="1.95"/><circle fill="#000" fill-opacity="0.58" cx="413.9" cy="133.25" r="1.95"/><circle fill="#000" fill-opacity="0.58" cx="414.2" cy="133.6" r="1.95"/><circle fill="#000" fill-opacity="0.58" cx="410.6" cy="135.3" r="1.95"/><circle fill="#000" fill-opacity="0.58" cx="418.1" cy="135.75" r="1.95"/><circle fill="#000" fill-opacity="0.58" cx="403.5" cy="137.4" r="1.95"/><circle fill="#000" fill-opacity="0.58" cx="407.25" cy="137.4" r="1.95"/><circle fill="#000" fill-opacity="0.58" cx="425.2" cy="133.7" r="1.95"/><circle fill="#000" fill-opacity="0.58" cx="425.2" cy="135.75" r="1.95"/><circle fill="#000" fill-opacity="0.58" cx="397.25" cy="140.75" r="1.95"/><circle fill="#000" fill-opacity="0.58" cx="401.4" cy="142.0" r="1.95"/><circle fill="#000" fill-opacity="0.58" cx="408.5" cy="140.75" r="1.95"/><circle fill="#000" fill-opacity="0.58" cx="413.1" cy="141.6" r="1.95"/><circle fill="#000" fill-opacity="0.58" cx="411.8" cy="143.25" r="1.95"/><circle fill="#000" fill-opacity="0.58" cx="416.4" cy="140.3" r="1.95"/><circle fill="#000" fill-opacity="0.58" cx="418.5" cy="142.0" r="1.95"/><circle fill="#000" fill-opacity="0.58" cx="401.4" cy="146.6" r="1.95"/><circle fill="#000" fill-opacity="0.58" cx="401.4" cy="148.25" r="1.95"/><circle fill="#000" fill-opacity="0.58" cx="409.3" cy="146.2" r="1.95"/><circle fill="#000" fill-opacity="0.58" cx="408.5" cy="147.8" r="1.95"/><circle fill="#000" fill-opacity="0.58" cx="412.7" cy="147.8" r="1.95"/><circle fill="#000" fill-opacity="0.58" cx="416.8" cy="145.75" r="1.95"/><circle fill="#000" fill-opacity="0.58" cx="419.75" cy="146.6" r="1.95"/><circle fill="#000" fill-opacity="0.58" cx="426.4" cy="146.6" r="1.95"/><circle fill="#000" fill-opacity="0.58" cx="422.1" cy="88.1" r="1.95"/><circle fill="#000" fill-opacity="0.58" cx="422.4" cy="88.5" r="1.95"/><circle fill="#000" fill-opacity="0.58" cx="424.2" cy="91.8" r="1.95"/><circle fill="#000" fill-opacity="0.58" cx="428.3" cy="90.6" r="1.95"/><circle fill="#000" fill-opacity="0.58" cx="413.75" cy="91.8" r="1.95"/><circle fill="#000" fill-opacity="0.58" cx="417.9" cy="93.1" r="1.95"/><circle fill="#000" fill-opacity="0.58" cx="400.8" cy="88.5" r="1.95"/><circle fill="#000" fill-opacity="0.58" cx="407.1" cy="96.4" r="1.95"/><circle fill="#000" fill-opacity="0.58" cx="406.7" cy="98.2" r="1.95"/><circle fill="#000" fill-opacity="0.58" cx="402.1" cy="98.5" r="1.95"/><circle fill="#000" fill-opacity="0.58" cx="403.3" cy="100.6" r="1.95"/><circle fill="#000" fill-opacity="0.58" cx="405.8" cy="101.8" r="1.95"/><circle fill="#000" fill-opacity="0.58" cx="400.8" cy="102.7" r="1.95"/><circle fill="#000" fill-opacity="0.58" cx="411.7" cy="97.7" r="1.95"/><circle fill="#000" fill-opacity="0.58" cx="421.7" cy="97.25" r="1.95"/><circle fill="#000" fill-opacity="0.58" cx="413.3" cy="102.25" r="1.95"/><circle fill="#000" fill-opacity="0.58" cx="416.7" cy="101.4" r="1.95"/><circle fill="#000" fill-opacity="0.58" cx="419.6" cy="101.8" r="1.95"/><circle fill="#000" fill-opacity="0.58" cx="422.1" cy="104.3" r="1.95"/><circle fill="#000" fill-opacity="0.58" cx="425.4" cy="103.5" r="1.95"/><circle fill="#000" fill-opacity="0.58" cx="429.6" cy="99.75" r="1.95"/><circle fill="#000" fill-opacity="0.58" cx="430.8" cy="101.8" r="1.95"/><circle fill="#000" fill-opacity="0.58" cx="431.1" cy="102.2" r="1.95"/><circle fill="#000" fill-opacity="0.58" cx="431.25" cy="95.2" r="1.95"/><line x1="349.75" y1="123.5" x2="492.2" y2="102.1" stroke="#4d7fe2" stroke-width="0.8"/><text x="524.2" y="9.8" font-size="12.6" text-anchor="start" font-weight="bold" fill="#000" textLength="7.3" lengthAdjust="spacingAndGlyphs" >C</text><text x="595.0" y="25.9" font-size="8.3" text-anchor="start" font-weight="normal" fill="#262626" stroke="#262626" stroke-width="0.22" textLength="77.1" lengthAdjust="spacingAndGlyphs" >rho -0.43, p&lt; 0.0001</text><line x1="535.8" y1="32.5" x2="535.8" y2="197.2" stroke="#cbcbcb" stroke-width="1.15"/><line x1="535.8" y1="197.2" x2="684.2" y2="197.2" stroke="#c4c4c4" stroke-width="1.15"/><line x1="533.3" y1="173.60" x2="535.2" y2="173.60" stroke="#e0e4e8" stroke-width="1"/><text x="528.6" y="178.3" font-size="8.3" text-anchor="end" font-weight="normal" fill="#262626" stroke="#262626" stroke-width="0.22" >0</text><line x1="533.3" y1="134.23" x2="535.2" y2="134.23" stroke="#e0e4e8" stroke-width="1"/><text x="528.6" y="137.9" font-size="8.3" text-anchor="end" font-weight="normal" fill="#262626" stroke="#262626" stroke-width="0.22" >1</text><line x1="533.3" y1="94.86" x2="535.2" y2="94.86" stroke="#e0e4e8" stroke-width="1"/><text x="528.6" y="99.8" font-size="8.3" text-anchor="end" font-weight="normal" fill="#262626" stroke="#262626" stroke-width="0.22" >2</text><line x1="533.3" y1="55.49" x2="535.2" y2="55.49" stroke="#e0e4e8" stroke-width="1"/><text x="528.6" y="60.0" font-size="8.3" text-anchor="end" font-weight="normal" fill="#262626" stroke="#262626" stroke-width="0.22" >3</text><line x1="556.50" y1="197.6" x2="556.50" y2="198.6" stroke="#d8d8d8" stroke-width="1"/><text x="556.5" y="210.2" font-size="8.3" text-anchor="middle" font-weight="normal" fill="#262626" stroke="#262626" stroke-width="0.22" >0</text><line x1="592.22" y1="197.6" x2="592.22" y2="198.6" stroke="#d8d8d8" stroke-width="1"/><text x="592.22" y="210.2" font-size="8.3" text-anchor="middle" font-weight="normal" fill="#262626" stroke="#262626" stroke-width="0.22" >1</text><line x1="627.94" y1="197.6" x2="627.94" y2="198.6" stroke="#d8d8d8" stroke-width="1"/><text x="627.94" y="210.2" font-size="8.3" text-anchor="middle" font-weight="normal" fill="#262626" stroke="#262626" stroke-width="0.22" >2</text><line x1="663.66" y1="197.6" x2="663.66" y2="198.6" stroke="#d8d8d8" stroke-width="1"/><text x="663.66" y="210.2" font-size="8.3" text-anchor="middle" font-weight="normal" fill="#262626" stroke="#262626" stroke-width="0.22" >3</text><text x="561.3" y="224.3" font-size="8.3" text-anchor="start" font-weight="normal" fill="#262626" stroke="#262626" stroke-width="0.22" textLength="97.1" lengthAdjust="spacingAndGlyphs" >Peritumoral Desmoplasia</text><text x="0" y="0" font-size="8.3" fill="#262626" stroke="#262626" stroke-width="0.22" textLength="99.2" lengthAdjust="spacingAndGlyphs" transform="translate(518.0,151.7) rotate(-90)">Peritumoral Inflammation</text><path d="M556.60,82.91 L559.27,84.44 L561.94,85.96 L564.60,87.48 L567.27,89.00 L569.94,90.52 L572.61,92.04 L575.27,93.55 L577.94,95.06 L580.61,96.57 L583.27,98.07 L585.94,99.56 L588.61,101.05 L591.28,102.53 L593.95,104.00 L596.61,105.47 L599.28,106.92 L601.95,108.36 L604.62,109.79 L607.28,111.20 L609.95,112.60 L612.62,113.97 L615.28,115.33 L617.95,116.66 L620.62,117.97 L623.29,119.26 L625.95,120.53 L628.62,121.77 L631.29,123.00 L633.96,124.21 L636.62,125.40 L639.29,126.58 L641.96,127.75 L644.63,128.91 L647.29,130.05 L649.96,131.19 L652.63,132.33 L655.30,133.45 L657.96,134.57 L660.63,135.69 L663.30,136.80 L663.30,146.20 L660.63,144.69 L657.96,143.19 L655.30,141.69 L652.63,140.19 L649.96,138.71 L647.29,137.23 L644.63,135.75 L641.96,134.29 L639.29,132.84 L636.62,131.40 L633.96,129.97 L631.29,128.56 L628.62,127.17 L625.95,125.79 L623.29,124.44 L620.62,123.11 L617.95,121.80 L615.28,120.51 L612.62,119.25 L609.95,118.00 L607.28,116.78 L604.62,115.57 L601.95,114.38 L599.28,113.20 L596.61,112.03 L593.95,110.88 L591.28,109.73 L588.61,108.59 L585.94,107.46 L583.27,106.33 L580.61,105.21 L577.94,104.10 L575.27,102.99 L572.61,101.88 L569.94,100.78 L567.27,99.68 L564.60,98.58 L561.94,97.48 L559.27,96.38 L556.60,95.29Z" fill="#d0d0d0" fill-opacity="0.8"/><circle fill="#000" fill-opacity="0.58" cx="550.8" cy="39.6" r="1.95"/><circle fill="#000" fill-opacity="0.58" cx="546.2" cy="41.2" r="1.95"/><circle fill="#000" fill-opacity="0.58" cx="544.0" cy="42.5" r="1.95"/><circle fill="#000" fill-opacity="0.58" cx="559.8" cy="41.2" r="1.95"/><circle fill="#000" fill-opacity="0.58" cx="560.1" cy="41.6" r="1.95"/><circle fill="#000" fill-opacity="0.58" cx="542.7" cy="45.8" r="1.95"/><circle fill="#000" fill-opacity="0.58" cx="547.6" cy="45.5" r="1.95"/><circle fill="#000" fill-opacity="0.58" cx="548.4" cy="46.8" r="1.95"/><circle fill="#000" fill-opacity="0.58" cx="557.5" cy="46.1" r="1.95"/><circle fill="#000" fill-opacity="0.58" cx="565.6" cy="45.1" r="1.95"/><circle fill="#000" fill-opacity="0.58" cx="546.0" cy="50.2" r="1.95"/><circle fill="#000" fill-opacity="0.58" cx="546.3" cy="50.6" r="1.95"/><circle fill="#000" fill-opacity="0.58" cx="552.5" cy="48.8" r="1.95"/><circle fill="#000" fill-opacity="0.58" cx="552.8" cy="49.2" r="1.95"/><circle fill="#000" fill-opacity="0.58" cx="563.0" cy="48.6" r="1.95"/><circle fill="#000" fill-opacity="0.58" cx="550.8" cy="53.25" r="1.95"/><circle fill="#000" fill-opacity="0.58" cx="559.0" cy="51.6" r="1.95"/><circle fill="#000" fill-opacity="0.58" cx="562.2" cy="51.6" r="1.95"/><circle fill="#000" fill-opacity="0.58" cx="566.0" cy="51.1" r="1.95"/><circle fill="#000" fill-opacity="0.58" cx="569.25" cy="52.0" r="1.95"/><circle fill="#000" fill-opacity="0.58" cx="569.5" cy="52.4" r="1.95"/><circle fill="#000" fill-opacity="0.58" cx="548.7" cy="56.5" r="1.95"/><circle fill="#000" fill-opacity="0.58" cx="557.3" cy="57.4" r="1.95"/><circle fill="#000" fill-opacity="0.58" cx="557.9" cy="53.8" r="1.95"/><circle fill="#000" fill-opacity="0.58" cx="561.1" cy="56.0" r="1.95"/><circle fill="#000" fill-opacity="0.58" cx="568.2" cy="58.1" r="1.95"/><circle fill="#000" fill-opacity="0.58" cx="570.9" cy="60.3" r="1.95"/><circle fill="#000" fill-opacity="0.58" cx="548.7" cy="60.8" r="1.95"/><circle fill="#000" fill-opacity="0.58" cx="553.5" cy="60.8" r="1.95"/><circle fill="#000" fill-opacity="0.58" cx="555.2" cy="63.5" r="1.95"/><circle fill="#000" fill-opacity="0.58" cx="559.5" cy="60.8" r="1.95"/><circle fill="#000" fill-opacity="0.58" cx="563.3" cy="64.1" r="1.95"/><circle fill="#000" fill-opacity="0.58" cx="563.6" cy="64.5" r="1.95"/><circle fill="#000" fill-opacity="0.58" cx="562.2" cy="65.0" r="1.95"/><circle fill="#000" fill-opacity="0.58" cx="567.1" cy="63.0" r="1.95"/><circle fill="#000" fill-opacity="0.58" cx="571.4" cy="63.5" r="1.95"/><circle fill="#000" fill-opacity="0.58" cx="568.2" cy="66.8" r="1.95"/><circle fill="#000" fill-opacity="0.58" cx="550.8" cy="66.25" r="1.95"/><circle fill="#000" fill-opacity="0.58" cx="546.5" cy="67.3" r="1.95"/><circle fill="#000" fill-opacity="0.58" cx="557.9" cy="66.8" r="1.95"/><circle fill="#000" fill-opacity="0.58" cx="542.7" cy="70.6" r="1.95"/><circle fill="#000" fill-opacity="0.58" cx="544.9" cy="69.5" r="1.95"/><circle fill="#000" fill-opacity="0.58" cx="550.3" cy="69.0" r="1.95"/><circle fill="#000" fill-opacity="0.58" cx="554.6" cy="69.5" r="1.95"/><circle fill="#000" fill-opacity="0.58" cx="554.9" cy="69.9" r="1.95"/><circle fill="#000" fill-opacity="0.58" cx="579.3" cy="47.8" r="1.95"/><circle fill="#000" fill-opacity="0.58" cx="582.7" cy="49.5" r="1.95"/><circle fill="#000" fill-opacity="0.58" cx="586.0" cy="49.5" r="1.95"/><circle fill="#000" fill-opacity="0.58" cx="587.7" cy="41.2" r="1.95"/><circle fill="#000" fill-opacity="0.58" cx="589.3" cy="42.8" r="1.95"/><circle fill="#000" fill-opacity="0.58" cx="583.5" cy="53.7" r="1.95"/><circle fill="#000" fill-opacity="0.58" cx="586.3" cy="55.7" r="1.95"/><circle fill="#000" fill-opacity="0.58" cx="590.2" cy="57.8" r="1.95"/><circle fill="#000" fill-opacity="0.58" cx="581.0" cy="66.2" r="1.95"/><circle fill="#000" fill-opacity="0.58" cx="579.0" cy="68.3" r="1.95"/><circle fill="#000" fill-opacity="0.58" cx="596.3" cy="40.0" r="1.95"/><circle fill="#000" fill-opacity="0.58" cx="599.7" cy="41.2" r="1.95"/><circle fill="#000" fill-opacity="0.58" cx="595.8" cy="44.5" r="1.95"/><circle fill="#000" fill-opacity="0.58" cx="596.1" cy="44.9" r="1.95"/><circle fill="#000" fill-opacity="0.58" cx="596.7" cy="46.2" r="1.95"/><circle fill="#000" fill-opacity="0.58" cx="600.3" cy="48.2" r="1.95"/><circle fill="#000" fill-opacity="0.58" cx="603.3" cy="43.7" r="1.95"/><circle fill="#000" fill-opacity="0.58" cx="606.2" cy="45.8" r="1.95"/><circle fill="#000" fill-opacity="0.58" cx="596.7" cy="54.8" r="1.95"/><circle fill="#000" fill-opacity="0.58" cx="596.7" cy="63.7" r="1.95"/><circle fill="#000" fill-opacity="0.58" cx="601.7" cy="63.7" r="1.95"/><circle fill="#000" fill-opacity="0.58" cx="604.2" cy="67.0" r="1.95"/><circle fill="#000" fill-opacity="0.58" cx="600.3" cy="67.8" r="1.95"/><circle fill="#000" fill-opacity="0.58" cx="600.6" cy="68.2" r="1.95"/><circle fill="#000" fill-opacity="0.58" cx="601.7" cy="70.3" r="1.95"/><circle fill="#000" fill-opacity="0.58" cx="620.8" cy="40.3" r="1.95"/><circle fill="#000" fill-opacity="0.58" cx="631.3" cy="44.2" r="1.95"/><circle fill="#000" fill-opacity="0.58" cx="624.2" cy="49.5" r="1.95"/><circle fill="#000" fill-opacity="0.58" cx="630.8" cy="57.3" r="1.95"/><circle fill="#000" fill-opacity="0.58" cx="627.0" cy="69.5" r="1.95"/><circle fill="#000" fill-opacity="0.58" cx="670.3" cy="62.0" r="1.95"/><circle fill="#000" fill-opacity="0.58" cx="668.3" cy="65.3" r="1.95"/><circle fill="#000" fill-opacity="0.58" cx="551.3" cy="81.7" r="1.95"/><circle fill="#000" fill-opacity="0.58" cx="548.0" cy="85.0" r="1.95"/><circle fill="#000" fill-opacity="0.58" cx="544.7" cy="87.0" r="1.95"/><circle fill="#000" fill-opacity="0.58" cx="542.3" cy="89.5" r="1.95"/><circle fill="#000" fill-opacity="0.58" cx="559.3" cy="92.3" r="1.95"/><circle fill="#000" fill-opacity="0.58" cx="563.0" cy="91.2" r="1.95"/><circle fill="#000" fill-opacity="0.58" cx="561.3" cy="99.0" r="1.95"/><circle fill="#000" fill-opacity="0.58" cx="560.7" cy="102.0" r="1.95"/><circle fill="#000" fill-opacity="0.58" cx="567.7" cy="98.3" r="1.95"/><circle fill="#000" fill-opacity="0.58" cx="569.7" cy="100.7" r="1.95"/><circle fill="#000" fill-opacity="0.58" cx="567.3" cy="106.7" r="1.95"/><circle fill="#000" fill-opacity="0.58" cx="561.8" cy="110.3" r="1.95"/><circle fill="#000" fill-opacity="0.58" cx="580.2" cy="81.1" r="1.95"/><circle fill="#000" fill-opacity="0.58" cx="582.3" cy="81.1" r="1.95"/><circle fill="#000" fill-opacity="0.58" cx="591.0" cy="82.7" r="1.95"/><circle fill="#000" fill-opacity="0.58" cx="588.9" cy="85.5" r="1.95"/><circle fill="#000" fill-opacity="0.58" cx="592.25" cy="84.25" r="1.95"/><circle fill="#000" fill-opacity="0.58" cx="592.3" cy="88.2" r="1.95"/><circle fill="#000" fill-opacity="0.58" cx="601.3" cy="82.7" r="1.95"/><circle fill="#000" fill-opacity="0.58" cx="606.0" cy="80.6" r="1.95"/><circle fill="#000" fill-opacity="0.58" cx="600.2" cy="86.3" r="1.95"/><circle fill="#000" fill-opacity="0.58" cx="602.25" cy="85.9" r="1.95"/><circle fill="#000" fill-opacity="0.58" cx="579.9" cy="88.6" r="1.95"/><circle fill="#000" fill-opacity="0.58" cx="579.9" cy="91.1" r="1.95"/><circle fill="#000" fill-opacity="0.58" cx="580.6" cy="93.4" r="1.95"/><circle fill="#000" fill-opacity="0.58" cx="580.2" cy="95.2" r="1.95"/><circle fill="#000" fill-opacity="0.58" cx="586.6" cy="93.3" r="1.95"/><circle fill="#000" fill-opacity="0.58" cx="591.3" cy="93.3" r="1.95"/><circle fill="#000" fill-opacity="0.58" cx="596.0" cy="91.4" r="1.95"/><circle fill="#000" fill-opacity="0.58" cx="596.4" cy="93.4" r="1.95"/><circle fill="#000" fill-opacity="0.58" cx="599.3" cy="94.25" r="1.95"/><circle fill="#000" fill-opacity="0.58" cx="585.9" cy="97.7" r="1.95"/><circle fill="#000" fill-opacity="0.58" cx="590.2" cy="97.4" r="1.95"/><circle fill="#000" fill-opacity="0.58" cx="603.3" cy="96.5" r="1.95"/><circle fill="#000" fill-opacity="0.58" cx="601.3" cy="99.0" r="1.95"/><circle fill="#000" fill-opacity="0.58" cx="595.4" cy="100.9" r="1.95"/><circle fill="#000" fill-opacity="0.58" cx="579.1" cy="100.1" r="1.95"/><circle fill="#000" fill-opacity="0.58" cx="578.6" cy="106.4" r="1.95"/><circle fill="#000" fill-opacity="0.58" cx="578.9" cy="106.8" r="1.95"/><circle fill="#000" fill-opacity="0.58" cx="589.4" cy="105.6" r="1.95"/><circle fill="#000" fill-opacity="0.58" cx="592.6" cy="105.3" r="1.95"/><circle fill="#000" fill-opacity="0.58" cx="600.2" cy="103.7" r="1.95"/><circle fill="#000" fill-opacity="0.58" cx="603.6" cy="103.7" r="1.95"/><circle fill="#000" fill-opacity="0.58" cx="598.6" cy="108.0" r="1.95"/><circle fill="#000" fill-opacity="0.58" cx="602.1" cy="108.0" r="1.95"/><circle fill="#000" fill-opacity="0.58" cx="619.0" cy="79.5" r="1.95"/><circle fill="#000" fill-opacity="0.58" cx="629.8" cy="81.2" r="1.95"/><circle fill="#000" fill-opacity="0.58" cx="628.7" cy="83.7" r="1.95"/><circle fill="#000" fill-opacity="0.58" cx="630.7" cy="85.7" r="1.95"/><circle fill="#000" fill-opacity="0.58" cx="635.3" cy="79.5" r="1.95"/><circle fill="#000" fill-opacity="0.58" cx="637.3" cy="82.3" r="1.95"/><circle fill="#000" fill-opacity="0.58" cx="641.5" cy="81.7" r="1.95"/><circle fill="#000" fill-opacity="0.58" cx="639.3" cy="85.3" r="1.95"/><circle fill="#000" fill-opacity="0.58" cx="649.8" cy="79.5" r="1.95"/><circle fill="#000" fill-opacity="0.58" cx="649.8" cy="83.3" r="1.95"/><circle fill="#000" fill-opacity="0.58" cx="630.7" cy="88.7" r="1.95"/><circle fill="#000" fill-opacity="0.58" cx="627.3" cy="91.2" r="1.95"/><circle fill="#000" fill-opacity="0.58" cx="634.8" cy="90.3" r="1.95"/><circle fill="#000" fill-opacity="0.58" cx="614.3" cy="93.7" r="1.95"/><circle fill="#000" fill-opacity="0.58" cx="617.3" cy="92.8" r="1.95"/><circle fill="#000" fill-opacity="0.58" cx="620.7" cy="93.3" r="1.95"/><circle fill="#000" fill-opacity="0.58" cx="627.0" cy="94.5" r="1.95"/><circle fill="#000" fill-opacity="0.58" cx="632.3" cy="93.7" r="1.95"/><circle fill="#000" fill-opacity="0.58" cx="635.7" cy="93.7" r="1.95"/><circle fill="#000" fill-opacity="0.58" cx="639.8" cy="93.3" r="1.95"/><circle fill="#000" fill-opacity="0.58" cx="652.3" cy="93.3" r="1.95"/><circle fill="#000" fill-opacity="0.58" cx="615.3" cy="97.0" r="1.95"/><circle fill="#000" fill-opacity="0.58" cx="618.7" cy="97.8" r="1.95"/><circle fill="#000" fill-opacity="0.58" cx="619.3" cy="100.0" r="1.95"/><circle fill="#000" fill-opacity="0.58" cx="615.7" cy="102.0" r="1.95"/><circle fill="#000" fill-opacity="0.58" cx="631.5" cy="98.7" r="1.95"/><circle fill="#000" fill-opacity="0.58" cx="631.8" cy="99.1" r="1.95"/><circle fill="#000" fill-opacity="0.58" cx="633.7" cy="98.3" r="1.95"/><circle fill="#000" fill-opacity="0.58" cx="634.0" cy="98.7" r="1.95"/><circle fill="#000" fill-opacity="0.58" cx="629.8" cy="102.0" r="1.95"/><circle fill="#000" fill-opacity="0.58" cx="639.3" cy="97.8" r="1.95"/><circle fill="#000" fill-opacity="0.58" cx="641.5" cy="102.0" r="1.95"/><circle fill="#000" fill-opacity="0.58" cx="624.8" cy="103.7" r="1.95"/><circle fill="#000" fill-opacity="0.58" cx="625.7" cy="106.2" r="1.95"/><circle fill="#000" fill-opacity="0.58" cx="631.0" cy="107.3" r="1.95"/><circle fill="#000" fill-opacity="0.58" cx="634.8" cy="107.0" r="1.95"/><circle fill="#000" fill-opacity="0.58" cx="614.8" cy="108.7" r="1.95"/><circle fill="#000" fill-opacity="0.58" cx="622.3" cy="110.0" r="1.95"/><circle fill="#000" fill-opacity="0.58" cx="625.3" cy="109.5" r="1.95"/><circle fill="#000" fill-opacity="0.58" cx="669.2" cy="82.3" r="1.95"/><circle fill="#000" fill-opacity="0.58" cx="670.8" cy="85.0" r="1.95"/><circle fill="#000" fill-opacity="0.58" cx="655.8" cy="89.5" r="1.95"/><circle fill="#000" fill-opacity="0.58" cx="656.1" cy="89.9" r="1.95"/><circle fill="#000" fill-opacity="0.58" cx="655.8" cy="93.3" r="1.95"/><circle fill="#000" fill-opacity="0.58" cx="672.5" cy="92.3" r="1.95"/><circle fill="#000" fill-opacity="0.58" cx="673.7" cy="98.3" r="1.95"/><circle fill="#000" fill-opacity="0.58" cx="657.5" cy="99.0" r="1.95"/><circle fill="#000" fill-opacity="0.58" cx="665.3" cy="100.3" r="1.95"/><circle fill="#000" fill-opacity="0.58" cx="663.3" cy="103.3" r="1.95"/><circle fill="#000" fill-opacity="0.58" cx="673.7" cy="102.8" r="1.95"/><circle fill="#000" fill-opacity="0.58" cx="676.3" cy="106.2" r="1.95"/><circle fill="#000" fill-opacity="0.58" cx="654.7" cy="106.2" r="1.95"/><circle fill="#000" fill-opacity="0.58" cx="658.0" cy="105.3" r="1.95"/><circle fill="#000" fill-opacity="0.58" cx="667.5" cy="106.2" r="1.95"/><circle fill="#000" fill-opacity="0.58" cx="667.5" cy="109.5" r="1.95"/><circle fill="#000" fill-opacity="0.58" cx="567.7" cy="122.0" r="1.95"/><circle fill="#000" fill-opacity="0.58" cx="566.0" cy="125.8" r="1.95"/><circle fill="#000" fill-opacity="0.58" cx="565.2" cy="129.7" r="1.95"/><circle fill="#000" fill-opacity="0.58" cx="552.7" cy="126.7" r="1.95"/><circle fill="#000" fill-opacity="0.58" cx="547.3" cy="130.0" r="1.95"/><circle fill="#000" fill-opacity="0.58" cx="561.8" cy="136.7" r="1.95"/><circle fill="#000" fill-opacity="0.58" cx="542.7" cy="141.3" r="1.95"/><circle fill="#000" fill-opacity="0.58" cx="543.0" cy="144.2" r="1.95"/><circle fill="#000" fill-opacity="0.58" cx="554.3" cy="145.8" r="1.95"/><circle fill="#000" fill-opacity="0.58" cx="559.7" cy="146.3" r="1.95"/><circle fill="#000" fill-opacity="0.58" cx="554.0" cy="149.2" r="1.95"/><circle fill="#000" fill-opacity="0.58" cx="584.8" cy="122.8" r="1.95"/><circle fill="#000" fill-opacity="0.58" cx="587.0" cy="120.2" r="1.95"/><circle fill="#000" fill-opacity="0.58" cx="588.6" cy="121.2" r="1.95"/><circle fill="#000" fill-opacity="0.58" cx="592.7" cy="119.1" r="1.95"/><circle fill="#000" fill-opacity="0.58" cx="595.4" cy="119.9" r="1.95"/><circle fill="#000" fill-opacity="0.58" cx="599.3" cy="118.0" r="1.95"/><circle fill="#000" fill-opacity="0.58" cx="583.8" cy="127.5" r="1.95"/><circle fill="#000" fill-opacity="0.58" cx="587.4" cy="126.2" r="1.95"/><circle fill="#000" fill-opacity="0.58" cx="590.1" cy="127.5" r="1.95"/><circle fill="#000" fill-opacity="0.58" cx="591.7" cy="129.1" r="1.95"/><circle fill="#000" fill-opacity="0.58" cx="592.0" cy="129.5" r="1.95"/><circle fill="#000" fill-opacity="0.58" cx="597.7" cy="126.2" r="1.95"/><circle fill="#000" fill-opacity="0.58" cx="600.1" cy="126.6" r="1.95"/><circle fill="#000" fill-opacity="0.58" cx="603.3" cy="124.7" r="1.95"/><circle fill="#000" fill-opacity="0.58" cx="602.5" cy="129.7" r="1.95"/><circle fill="#000" fill-opacity="0.58" cx="582.7" cy="133.8" r="1.95"/><circle fill="#000" fill-opacity="0.58" cx="585.4" cy="135.0" r="1.95"/><circle fill="#000" fill-opacity="0.58" cx="581.6" cy="137.6" r="1.95"/><circle fill="#000" fill-opacity="0.58" cx="589.0" cy="137.0" r="1.95"/><circle fill="#000" fill-opacity="0.58" cx="593.0" cy="135.7" r="1.95"/><circle fill="#000" fill-opacity="0.58" cx="596.2" cy="135.7" r="1.95"/><circle fill="#000" fill-opacity="0.58" cx="603.3" cy="135.4" r="1.95"/><circle fill="#000" fill-opacity="0.58" cx="603.3" cy="137.6" r="1.95"/><circle fill="#000" fill-opacity="0.58" cx="585.1" cy="142.4" r="1.95"/><circle fill="#000" fill-opacity="0.58" cx="585.4" cy="142.8" r="1.95"/><circle fill="#000" fill-opacity="0.58" cx="585.4" cy="144.4" r="1.95"/><circle fill="#000" fill-opacity="0.58" cx="580.3" cy="144.4" r="1.95"/><circle fill="#000" fill-opacity="0.58" cx="580.6" cy="144.8" r="1.95"/><circle fill="#000" fill-opacity="0.58" cx="578.3" cy="149.0" r="1.95"/><circle fill="#000" fill-opacity="0.58" cx="582.9" cy="149.0" r="1.95"/><circle fill="#000" fill-opacity="0.58" cx="594.3" cy="142.1" r="1.95"/><circle fill="#000" fill-opacity="0.58" cx="594.6" cy="142.5" r="1.95"/><circle fill="#000" fill-opacity="0.58" cx="595.4" cy="144.9" r="1.95"/><circle fill="#000" fill-opacity="0.58" cx="602.2" cy="142.4" r="1.95"/><circle fill="#000" fill-opacity="0.58" cx="604.1" cy="146.0" r="1.95"/><circle fill="#000" fill-opacity="0.58" cx="603.3" cy="148.1" r="1.95"/><circle fill="#000" fill-opacity="0.58" cx="612.8" cy="126.2" r="1.95"/><circle fill="#000" fill-opacity="0.58" cx="604.1" cy="149.8" r="1.95"/><circle fill="#000" fill-opacity="0.58" cx="618.2" cy="119.2" r="1.95"/><circle fill="#000" fill-opacity="0.58" cx="619.0" cy="125.8" r="1.95"/><circle fill="#000" fill-opacity="0.58" cx="614.3" cy="125.0" r="1.95"/><circle fill="#000" fill-opacity="0.58" cx="630.3" cy="121.3" r="1.95"/><circle fill="#000" fill-opacity="0.58" cx="633.2" cy="120.3" r="1.95"/><circle fill="#000" fill-opacity="0.58" cx="629.0" cy="123.3" r="1.95"/><circle fill="#000" fill-opacity="0.58" cx="634.0" cy="124.2" r="1.95"/><circle fill="#000" fill-opacity="0.58" cx="641.5" cy="123.7" r="1.95"/><circle fill="#000" fill-opacity="0.58" cx="649.0" cy="120.3" r="1.95"/><circle fill="#000" fill-opacity="0.58" cx="649.3" cy="120.7" r="1.95"/><circle fill="#000" fill-opacity="0.58" cx="629.8" cy="127.5" r="1.95"/><circle fill="#000" fill-opacity="0.58" cx="625.3" cy="148.0" r="1.95"/><circle fill="#000" fill-opacity="0.58" cx="650.7" cy="146.3" r="1.95"/><circle fill="#000" fill-opacity="0.58" cx="655.8" cy="120.8" r="1.95"/><circle fill="#000" fill-opacity="0.58" cx="666.7" cy="119.7" r="1.95"/><circle fill="#000" fill-opacity="0.58" cx="672.0" cy="118.7" r="1.95"/><circle fill="#000" fill-opacity="0.58" cx="672.3" cy="119.1" r="1.95"/><circle fill="#000" fill-opacity="0.58" cx="675.0" cy="120.8" r="1.95"/><circle fill="#000" fill-opacity="0.58" cx="656.7" cy="144.7" r="1.95"/><circle fill="#000" fill-opacity="0.58" cx="657.0" cy="145.1" r="1.95"/><circle fill="#000" fill-opacity="0.58" cx="662.5" cy="145.3" r="1.95"/><circle fill="#000" fill-opacity="0.58" cx="653.3" cy="148.0" r="1.95"/><circle fill="#000" fill-opacity="0.58" cx="661.7" cy="148.0" r="1.95"/><circle fill="#000" fill-opacity="0.58" cx="674.2" cy="146.7" r="1.95"/><circle fill="#000" fill-opacity="0.58" cx="677.5" cy="148.0" r="1.95"/><circle fill="#000" fill-opacity="0.58" cx="547.3" cy="169.3" r="1.95"/><circle fill="#000" fill-opacity="0.58" cx="548.8" cy="170.8" r="1.95"/><circle fill="#000" fill-opacity="0.58" cx="553.3" cy="181.7" r="1.95"/><circle fill="#000" fill-opacity="0.58" cx="557.8" cy="181.3" r="1.95"/><circle fill="#000" fill-opacity="0.58" cx="559.0" cy="178.7" r="1.95"/><circle fill="#000" fill-opacity="0.58" cx="547.3" cy="188.8" r="1.95"/><circle fill="#000" fill-opacity="0.58" cx="560.5" cy="188.8" r="1.95"/><circle fill="#000" fill-opacity="0.58" cx="585.6" cy="177.2" r="1.95"/><circle fill="#000" fill-opacity="0.58" cx="585.0" cy="183.8" r="1.95"/><circle fill="#000" fill-opacity="0.58" cx="590.0" cy="180.3" r="1.95"/><circle fill="#000" fill-opacity="0.58" cx="586.5" cy="182.5" r="1.95"/><circle fill="#000" fill-opacity="0.58" cx="584.8" cy="183.9" r="1.95"/><circle fill="#000" fill-opacity="0.58" cx="602.0" cy="178.5" r="1.95"/><circle fill="#000" fill-opacity="0.58" cx="602.4" cy="180.3" r="1.95"/><circle fill="#000" fill-opacity="0.58" cx="597.3" cy="181.4" r="1.95"/><circle fill="#000" fill-opacity="0.58" cx="603.0" cy="186.8" r="1.95"/><circle fill="#000" fill-opacity="0.58" cx="624.1" cy="158.8" r="1.95"/><circle fill="#000" fill-opacity="0.58" cx="625.7" cy="160.6" r="1.95"/><circle fill="#000" fill-opacity="0.58" cx="619.2" cy="161.7" r="1.95"/><circle fill="#000" fill-opacity="0.58" cx="619.75" cy="163.3" r="1.95"/><circle fill="#000" fill-opacity="0.58" cx="632.75" cy="157.9" r="1.95"/><circle fill="#000" fill-opacity="0.58" cx="634.9" cy="168.75" r="1.95"/><circle fill="#000" fill-opacity="0.58" cx="637.6" cy="170.4" r="1.95"/><circle fill="#000" fill-opacity="0.58" cx="640.9" cy="169.3" r="1.95"/><circle fill="#000" fill-opacity="0.58" cx="634.4" cy="171.8" r="1.95"/><circle fill="#000" fill-opacity="0.58" cx="636.0" cy="174.9" r="1.95"/><circle fill="#000" fill-opacity="0.58" cx="634.9" cy="179.5" r="1.95"/><circle fill="#000" fill-opacity="0.58" cx="616.0" cy="184.6" r="1.95"/><circle fill="#000" fill-opacity="0.58" cx="619.5" cy="182.5" r="1.95"/><circle fill="#000" fill-opacity="0.58" cx="624.1" cy="183.9" r="1.95"/><circle fill="#000" fill-opacity="0.58" cx="623.0" cy="186.0" r="1.95"/><circle fill="#000" fill-opacity="0.58" cx="630.0" cy="188.6" r="1.95"/><circle fill="#000" fill-opacity="0.58" cx="638.7" cy="184.3" r="1.95"/><circle fill="#000" fill-opacity="0.58" cx="640.3" cy="186.8" r="1.95"/><circle fill="#000" fill-opacity="0.58" cx="649.5" cy="180.8" r="1.95"/><circle fill="#000" fill-opacity="0.58" cx="658.9" cy="158.8" r="1.95"/><circle fill="#000" fill-opacity="0.58" cx="670.0" cy="158.5" r="1.95"/><circle fill="#000" fill-opacity="0.58" cx="669.4" cy="160.6" r="1.95"/><circle fill="#000" fill-opacity="0.58" cx="661.8" cy="163.1" r="1.95"/><circle fill="#000" fill-opacity="0.58" cx="662.1" cy="163.5" r="1.95"/><circle fill="#000" fill-opacity="0.58" cx="664.5" cy="163.9" r="1.95"/><circle fill="#000" fill-opacity="0.58" cx="672.6" cy="165.0" r="1.95"/><circle fill="#000" fill-opacity="0.58" cx="676.4" cy="164.4" r="1.95"/><circle fill="#000" fill-opacity="0.58" cx="676.4" cy="166.0" r="1.95"/><circle fill="#000" fill-opacity="0.58" cx="676.7" cy="166.4" r="1.95"/><circle fill="#000" fill-opacity="0.58" cx="654.5" cy="167.5" r="1.95"/><circle fill="#000" fill-opacity="0.58" cx="661.0" cy="167.7" r="1.95"/><circle fill="#000" fill-opacity="0.58" cx="667.2" cy="167.5" r="1.95"/><circle fill="#000" fill-opacity="0.58" cx="668.3" cy="169.3" r="1.95"/><circle fill="#000" fill-opacity="0.58" cx="651.5" cy="170.7" r="1.95"/><circle fill="#000" fill-opacity="0.58" cx="655.3" cy="170.9" r="1.95"/><circle fill="#000" fill-opacity="0.58" cx="667.75" cy="171.5" r="1.95"/><circle fill="#000" fill-opacity="0.58" cx="667.75" cy="174.9" r="1.95"/><circle fill="#000" fill-opacity="0.58" cx="668.0" cy="175.3" r="1.95"/><circle fill="#000" fill-opacity="0.58" cx="662.3" cy="175.2" r="1.95"/><circle fill="#000" fill-opacity="0.58" cx="672.6" cy="176.3" r="1.95"/><circle fill="#000" fill-opacity="0.58" cx="654.2" cy="176.0" r="1.95"/><circle fill="#000" fill-opacity="0.58" cx="652.6" cy="178.5" r="1.95"/><circle fill="#000" fill-opacity="0.58" cx="653.7" cy="180.3" r="1.95"/><circle fill="#000" fill-opacity="0.58" cx="657.5" cy="182.1" r="1.95"/><circle fill="#000" fill-opacity="0.58" cx="660.4" cy="180.6" r="1.95"/><circle fill="#000" fill-opacity="0.58" cx="662.3" cy="183.9" r="1.95"/><circle fill="#000" fill-opacity="0.58" cx="662.6" cy="184.3" r="1.95"/><circle fill="#000" fill-opacity="0.58" cx="664.0" cy="182.8" r="1.95"/><circle fill="#000" fill-opacity="0.58" cx="667.2" cy="182.5" r="1.95"/><circle fill="#000" fill-opacity="0.58" cx="672.6" cy="184.1" r="1.95"/><circle fill="#000" fill-opacity="0.58" cx="673.4" cy="189.5" r="1.95"/><circle fill="#000" fill-opacity="0.58" cx="618.0" cy="91.5" r="1.95"/><circle fill="#000" fill-opacity="0.58" cx="617.5" cy="102.0" r="1.95"/><circle fill="#000" fill-opacity="0.58" cx="632.0" cy="95.2" r="1.95"/><circle fill="#000" fill-opacity="0.58" cx="631.5" cy="86.5" r="1.95"/><circle fill="#000" fill-opacity="0.58" cx="580.2" cy="103.9" r="1.95"/><circle fill="#000" fill-opacity="0.58" cx="614.6" cy="133.0" r="1.95"/><circle fill="#000" fill-opacity="0.58" cx="616.25" cy="134.25" r="1.95"/><circle fill="#000" fill-opacity="0.58" cx="613.3" cy="135.5" r="1.95"/><circle fill="#000" fill-opacity="0.58" cx="613.75" cy="137.6" r="1.95"/><circle fill="#000" fill-opacity="0.58" cx="624.6" cy="128.8" r="1.95"/><circle fill="#000" fill-opacity="0.58" cx="622.1" cy="132.6" r="1.95"/><circle fill="#000" fill-opacity="0.58" cx="620.8" cy="135.9" r="1.95"/><circle fill="#000" fill-opacity="0.58" cx="625.4" cy="137.2" r="1.95"/><circle fill="#000" fill-opacity="0.58" cx="621.7" cy="140.1" r="1.95"/><circle fill="#000" fill-opacity="0.58" cx="622.9" cy="141.75" r="1.95"/><circle fill="#000" fill-opacity="0.58" cx="615.0" cy="141.75" r="1.95"/><circle fill="#000" fill-opacity="0.58" cx="617.1" cy="143.8" r="1.95"/><circle fill="#000" fill-opacity="0.58" cx="614.2" cy="146.3" r="1.95"/><circle fill="#000" fill-opacity="0.58" cx="620.4" cy="146.3" r="1.95"/><circle fill="#000" fill-opacity="0.58" cx="622.5" cy="147.2" r="1.95"/><circle fill="#000" fill-opacity="0.58" cx="628.3" cy="147.2" r="1.95"/><circle fill="#000" fill-opacity="0.58" cx="630.0" cy="129.25" r="1.95"/><circle fill="#000" fill-opacity="0.58" cx="631.25" cy="132.6" r="1.95"/><circle fill="#000" fill-opacity="0.58" cx="631.7" cy="135.5" r="1.95"/><circle fill="#000" fill-opacity="0.58" cx="634.2" cy="135.9" r="1.95"/><circle fill="#000" fill-opacity="0.58" cx="634.5" cy="136.3" r="1.95"/><circle fill="#000" fill-opacity="0.58" cx="632.9" cy="138.4" r="1.95"/><circle fill="#000" fill-opacity="0.58" cx="630.4" cy="141.3" r="1.95"/><circle fill="#000" fill-opacity="0.58" cx="633.75" cy="142.6" r="1.95"/><circle fill="#000" fill-opacity="0.58" cx="641.0" cy="128.0" r="1.95"/><circle fill="#000" fill-opacity="0.58" cx="668.3" cy="126.2" r="1.95"/><circle fill="#000" fill-opacity="0.58" cx="666.7" cy="128.25" r="1.95"/><circle fill="#000" fill-opacity="0.58" cx="661.7" cy="128.7" r="1.95"/><circle fill="#000" fill-opacity="0.58" cx="663.75" cy="130.75" r="1.95"/><circle fill="#000" fill-opacity="0.58" cx="667.1" cy="132.8" r="1.95"/><circle fill="#000" fill-opacity="0.58" cx="670.4" cy="132.0" r="1.95"/><circle fill="#000" fill-opacity="0.58" cx="675.8" cy="129.9" r="1.95"/><circle fill="#000" fill-opacity="0.58" cx="660.4" cy="133.25" r="1.95"/><circle fill="#000" fill-opacity="0.58" cx="660.8" cy="135.75" r="1.95"/><circle fill="#000" fill-opacity="0.58" cx="662.9" cy="136.6" r="1.95"/><circle fill="#000" fill-opacity="0.58" cx="655.4" cy="135.3" r="1.95"/><circle fill="#000" fill-opacity="0.58" cx="653.3" cy="138.7" r="1.95"/><circle fill="#000" fill-opacity="0.58" cx="670.4" cy="136.2" r="1.95"/><circle fill="#000" fill-opacity="0.58" cx="671.25" cy="138.7" r="1.95"/><circle fill="#000" fill-opacity="0.58" cx="671.5" cy="139.1" r="1.95"/><circle fill="#000" fill-opacity="0.58" cx="673.75" cy="137.4" r="1.95"/><circle fill="#000" fill-opacity="0.58" cx="677.1" cy="139.1" r="1.95"/><circle fill="#000" fill-opacity="0.58" cx="667.9" cy="141.2" r="1.95"/><circle fill="#000" fill-opacity="0.58" cx="671.25" cy="141.2" r="1.95"/><circle fill="#000" fill-opacity="0.58" cx="589.3" cy="159.3" r="1.95"/><circle fill="#000" fill-opacity="0.58" cx="589.3" cy="161.8" r="1.95"/><circle fill="#000" fill-opacity="0.58" cx="593.1" cy="159.75" r="1.95"/><circle fill="#000" fill-opacity="0.58" cx="593.1" cy="161.4" r="1.95"/><circle fill="#000" fill-opacity="0.58" cx="591.4" cy="164.75" r="1.95"/><circle fill="#000" fill-opacity="0.58" cx="594.3" cy="167.25" r="1.95"/><circle fill="#000" fill-opacity="0.58" cx="600.2" cy="158.9" r="1.95"/><circle fill="#000" fill-opacity="0.58" cx="599.3" cy="161.0" r="1.95"/><circle fill="#000" fill-opacity="0.58" cx="597.7" cy="162.7" r="1.95"/><circle fill="#000" fill-opacity="0.58" cx="601.0" cy="165.6" r="1.95"/><circle fill="#000" fill-opacity="0.58" cx="601.4" cy="167.25" r="1.95"/><circle fill="#000" fill-opacity="0.58" cx="598.5" cy="171.0" r="1.95"/><circle fill="#000" fill-opacity="0.58" cx="601.8" cy="171.4" r="1.95"/><circle fill="#000" fill-opacity="0.58" cx="602.1" cy="171.8" r="1.95"/><circle fill="#000" fill-opacity="0.58" cx="599.3" cy="174.75" r="1.95"/><circle fill="#000" fill-opacity="0.58" cx="579.3" cy="167.25" r="1.95"/><circle fill="#000" fill-opacity="0.58" cx="582.7" cy="165.6" r="1.95"/><circle fill="#000" fill-opacity="0.58" cx="585.2" cy="166.8" r="1.95"/><circle fill="#000" fill-opacity="0.58" cx="581.0" cy="170.6" r="1.95"/><circle fill="#000" fill-opacity="0.58" cx="588.1" cy="169.3" r="1.95"/><circle fill="#000" fill-opacity="0.58" cx="588.4" cy="169.7" r="1.95"/><circle fill="#000" fill-opacity="0.58" cx="580.6" cy="175.2" r="1.95"/><circle fill="#000" fill-opacity="0.58" cx="586.0" cy="175.6" r="1.95"/><line x1="556.6" y1="89.1" x2="663.3" y2="141.5" stroke="#4d7fe2" stroke-width="0.8"/>
</svg>
</body></html>
